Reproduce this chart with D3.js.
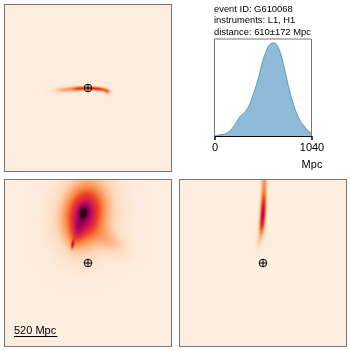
<!DOCTYPE html>
<html><head><meta charset="utf-8">
<script src="https://cdn.jsdelivr.net/npm/d3@7"></script>
<style>
body{margin:0;background:#fff;}
#wrap{position:relative;width:350px;height:350px;}
canvas,svg{position:absolute;left:0;top:0;}
text{font-family:"Liberation Sans",Arial,sans-serif;}
</style>
</head><body><div id="wrap"><canvas id="cv" width="350" height="350"></canvas><svg id="sv" width="350" height="350"></svg></div>
<script>
// ---------- data ----------
const eventId = "G610068";
const instruments = ["L1", "H1"];
const distMean = 610, distStd = 172;
const histDistances = [0, 64, 118, 172, 225, 279, 314, 368, 421, 475, 515, 547, 579, 633, 686, 740, 793, 847, 901, 954, 1008, 1040];
const histDensity   = [0, 0.013, 0.024, 0.059, 0.127, 0.206, 0.234, 0.309, 0.446, 0.613, 0.773, 0.856, 0.928, 0.962, 0.910, 0.739, 0.515, 0.327, 0.189, 0.110, 0.052, 0.028];
const histTicks = [0, 1040];
const panelExtent = 1000;   // Mpc, half-width of each projection
const scaleBarMpc = 520;
// density components: [cx, cy, sigmaMajor, sigmaMinor, angleDeg, weight] (Mpc)
const compTop = [
  [-250, -20, 115, 24, 4, 0.28],
  [-80, -5, 70, 19, 2, 0.45],
  [84, -7, 60, 17, -4, 0.55],
  [192, -24, 50, 20, -12, 0.32],
  [232, -46, 26, 20, -50, 0.22]
];
const compBottomLeft = [
  [-56, 600, 45, 30, 75, 0.35],
  [-50, 590, 220, 140, 78, 0.46],
  [-20, 585, 320, 240, 80, 0.33],
  [280, 250, 160, 90, -35, 0.14],
  [-184, 220, 36, 12, 80, 0.45],
  [-130, 360, 100, 55, 80, 0.18]
];
const compBottomRight = [
  [0, 590, 120, 24, 86, 0.62],
  [8, 800, 120, 26, 86, 0.32],
  [-18, 420, 90, 26, 86, 0.28],
  [-50, 250, 60, 26, 80, 0.12],
  [14, 990, 80, 26, 86, 0.22]
];

// ---------- styles ----------
const cmapStops = ["#fdeee0", "#fdd9bb", "#fcae7c", "#f9813f", "#ee4426", "#d81d4f", "#a8005c", "#5e0036", "#2a0a12"];
const color = d3.scaleSequential(d3.piecewise(d3.interpolateRgb, cmapStops)).domain([0, 1]).clamp(true);

const panels = [
  {x0: 4.5, y0: 4.5, size: 167, comps: compTop},
  {x0: 4.5, y0: 179.5, size: 167, comps: compBottomLeft},
  {x0: 179.5, y0: 179.5, size: 167, comps: compBottomRight}
];

const cv = document.getElementById("cv");
const ctx = cv.getContext("2d");
const svg = d3.select("#sv");

function density(comps, x, y) {
  let s = 0;
  for (const [cx, cy, a, b, ang, w] of comps) {
    const t = ang * Math.PI / 180;
    const dx = x - cx, dy = y - cy;
    const u = dx * Math.cos(t) + dy * Math.sin(t);
    const v = -dx * Math.sin(t) + dy * Math.cos(t);
    s += w * Math.exp(-0.5 * (u * u / (a * a) + v * v / (b * b)));
  }
  return s;
}

panels.forEach(p => {
  p.xs = d3.scaleLinear().domain([-panelExtent, panelExtent]).range([p.x0, p.x0 + p.size]);
  p.ys = d3.scaleLinear().domain([-panelExtent, panelExtent]).range([p.y0 + p.size, p.y0]);
  const px0 = Math.floor(p.x0), px1 = Math.ceil(p.x0 + p.size);
  const py0 = Math.floor(p.y0), py1 = Math.ceil(p.y0 + p.size);
  const W = px1 - px0, H = py1 - py0;
  const img = ctx.createImageData(W, H);
  const ss = 3;
  for (let j = 0; j < H; j++) {
    for (let i = 0; i < W; i++) {
      let r = 0, g = 0, bl = 0;
      for (let a = 0; a < ss; a++) for (let b = 0; b < ss; b++) {
        const X = p.xs.invert(px0 + i + (a + 0.5) / ss);
        const Y = p.ys.invert(py0 + j + (b + 0.5) / ss);
        const c = d3.rgb(color(density(p.comps, X, Y)));
        r += c.r; g += c.g; bl += c.b;
      }
      const k = 4 * (j * W + i);
      img.data[k] = r / (ss * ss); img.data[k + 1] = g / (ss * ss); img.data[k + 2] = bl / (ss * ss); img.data[k + 3] = 255;
    }
  }
  ctx.putImageData(img, px0, py0);

  svg.append("rect").attr("x", p.x0).attr("y", p.y0).attr("width", p.size).attr("height", p.size)
    .attr("fill", "none").attr("stroke", "#777").attr("stroke-width", 1);
  // Earth symbol
  const ex = p.xs(0), ey = p.ys(0), r = 3.8;
  const g = svg.append("g").attr("stroke", "#000").attr("stroke-width", 1).attr("fill", "none");
  g.append("circle").attr("cx", ex).attr("cy", ey).attr("r", r);
  g.append("line").attr("x1", ex - r).attr("x2", ex + r).attr("y1", ey).attr("y2", ey);
  g.append("line").attr("x1", ex).attr("x2", ex).attr("y1", ey - r).attr("y2", ey + r);
});

// scale bar in bottom-left panel
{
  const p = panels[1];
  const x0 = 14, yb = 336.5;
  const len = p.xs(scaleBarMpc) - p.xs(0);
  svg.append("line").attr("x1", x0).attr("x2", x0 + len).attr("y1", yb).attr("y2", yb)
    .attr("stroke", "#000").attr("stroke-width", 1);
  svg.append("text").attr("x", x0).attr("y", 334).attr("font-size", 11).attr("fill", "#000").text(scaleBarMpc + " Mpc");
}

// distance histogram
{
  const hx = d3.scaleLinear().domain([0, 1040]).range([214.5, 311.5]);
  const hy = d3.scaleLinear().domain([0, 1]).range([136, 39]);
  const pts = histDistances.map((d, i) => [d, histDensity[i]]);
  const area = d3.area().x(d => hx(d[0])).y0(hy(0)).y1(d => hy(d[1])).curve(d3.curveMonotoneX);
  const line = d3.line().x(d => hx(d[0])).y(d => hy(d[1])).curve(d3.curveMonotoneX);
  svg.append("path").attr("d", area(pts)).attr("fill", "#1f77b4").attr("fill-opacity", 0.5);
  svg.append("path").attr("d", line(pts)).attr("fill", "none").attr("stroke", "#1f77b4").attr("stroke-opacity", 0.6).attr("stroke-width", 1);
  svg.append("path").attr("d", `M${hx(0)},${hy(0)}V${hy(1)}H${hx(1040)}V${hy(0)}`)
    .attr("fill", "none").attr("stroke", "#777").attr("stroke-width", 1);
  const ax = d3.axisBottom(hx).tickValues(histTicks).tickSize(4).tickPadding(3).tickFormat(d3.format("d"));
  const axg = svg.append("g").attr("transform", `translate(0,${hy(0)})`).call(ax);
  axg.selectAll("text").attr("font-size", 11).attr("font-family", "Liberation Sans, Arial, sans-serif").attr("fill", "#000");
  axg.select(".domain").attr("stroke", "#000");
  svg.append("text").attr("x", 312).attr("y", 168).attr("text-anchor", "middle").attr("font-size", 11).text("Mpc");
  const lines = [`event ID: ${eventId}`, `instruments: ${instruments.join(", ")}`, `distance: ${distMean}±${distStd} Mpc`];
  svg.selectAll("text.hdr").data(lines).enter().append("text").attr("class", "hdr")
    .attr("x", 214).attr("y", (d, i) => 11.8 + i * 11.6).attr("font-size", 9.4).attr("fill", "#000").text(d => d);
}
</script></body></html>
